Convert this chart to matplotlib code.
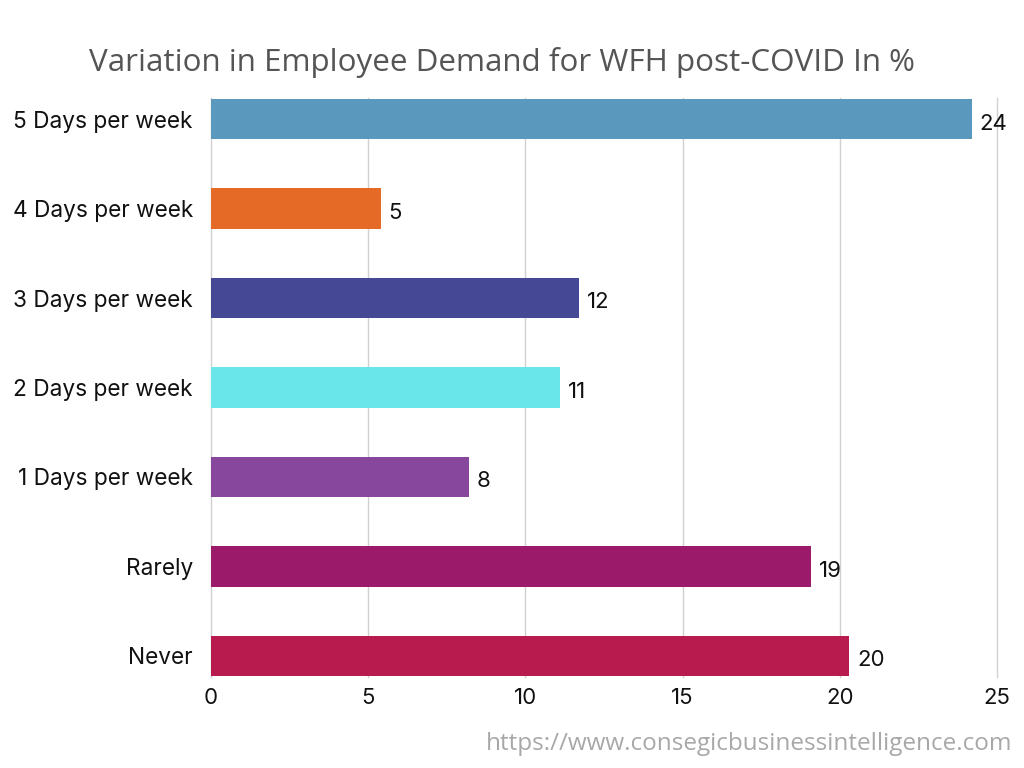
import matplotlib
matplotlib.use("Agg")
import matplotlib.pyplot as plt

categories = ["5 Days per week", "4 Days per week", "3 Days per week", "2 Days per week",
              "1 Days per week", "Rarely", "Never"]
values = [24.2, 5.4, 11.7, 11.1, 8.2, 19.1, 20.3]
value_labels = ["24", "5", "12", "11", "8", "19", "20"]
colors = ["#5B98BE", "#E46A25", "#454894", "#69E6EA", "#86479C", "#9B1B6A", "#B81B4E"]
xticks = [0, 5, 10, 15, 20, 25]

fig = plt.figure(figsize=(10.24, 7.68), dpi=100)
ax = fig.add_axes([0.206, 0.1185, 0.7676, 0.7539])

ypos = list(range(len(categories)))
ax.barh(ypos, values, height=0.45, color=colors, zorder=3)
for y, v, lab in zip(ypos, values, value_labels):
    ax.text(v + 0.25, y + 0.05, lab, va="center", ha="left", fontsize=16,
            family="Inter", color="#111111")

ax.set_ylim(len(categories) - 1 + 0.235, -0.235)
ax.set_xlim(0, 25)
ax.set_xticks(xticks)
ax.set_xticklabels([str(t) for t in xticks], family="Inter", fontsize=16, color="#111111")
ax.set_yticks(ypos)
ax.set_yticklabels(categories, family="Inter", fontsize=16.3, color="#111111")
ax.tick_params(axis="both", length=0)
ax.tick_params(axis="y", pad=13)
ax.tick_params(axis="x", pad=8)
for t in xticks:
    ax.axvline(t, color="#d0d0d0", linewidth=1, zorder=0, clip_on=False)
for s in ax.spines.values():
    s.set_visible(False)

fig.text(0.4905, 0.919, "Variation in Employee Demand for WFH post-COVID In %",
         ha="center", va="center", fontsize=22.6, family="Open Sans",
         weight="medium", color="#555555")
fig.text(0.989, 0.031, "https://www.consegicbusinessintelligence.com", ha="right",
         va="center", fontsize=17.5, family="Open Sans", color="#a8a8a8")

fig.savefig("out.png", dpi=100)
